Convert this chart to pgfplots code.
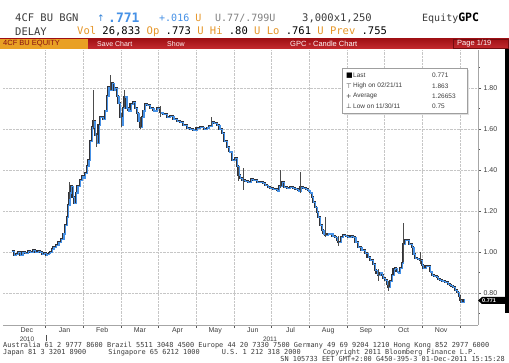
\documentclass[border=0pt]{standalone}
\usepackage{pgfplots}
\pgfplotsset{compat=1.18}
\usepackage{fontspec}
\setmainfont{Liberation Sans}
\newfontfamily\monof{DejaVu Sans Mono}
\newfontfamily\dejavu{DejaVu Sans}
\definecolor{bbblue}{RGB}{50,130,215}
\definecolor{lblue}{RGB}{70,145,230}
\definecolor{bborange}{RGB}{230,150,40}
\definecolor{bbred}{RGB}{190,20,25}
\definecolor{bbdark}{RGB}{60,60,60}
\definecolor{candle}{RGB}{50,50,55}
\pgfplotstableread{
x y
0.098 1.006
0.150 0.985
0.212 0.990
0.260 1.000
0.319 0.985
0.380 1.000
0.451 0.995
0.520 1.005
0.584 1.000
0.650 1.010
0.717 1.000
0.780 1.006
0.850 1.000
0.900 0.990
0.956 0.995
1.000 0.985
1.035 0.990
1.080 0.995
1.115 1.000
1.160 1.015
1.203 1.026
1.270 1.035
1.335 1.050
1.400 1.065
1.468 1.090
1.510 1.130
1.558 1.170
1.590 1.230
1.627 1.290
1.664 1.320
1.710 1.270
1.752 1.240
1.800 1.290
1.840 1.320
1.900 1.350
1.956 1.370
2.000 1.360
2.044 1.385
2.090 1.420
2.132 1.450
2.180 1.540
2.222 1.610
2.264 1.640
2.310 1.570
2.355 1.530
2.400 1.620
2.442 1.660
2.510 1.650
2.575 1.690
2.620 1.760
2.663 1.806
2.710 1.790
2.753 1.823
2.800 1.790
2.840 1.800
2.890 1.760
2.928 1.727
2.970 1.660
3.018 1.620
3.050 1.700
3.079 1.758
3.140 1.700
3.194 1.690
3.250 1.720
3.310 1.730
3.360 1.700
3.416 1.677
3.460 1.640
3.504 1.610
3.550 1.660
3.592 1.690
3.640 1.720
3.682 1.717
3.760 1.700
3.857 1.690
3.950 1.700
4.035 1.680
4.120 1.675
4.213 1.660
4.300 1.665
4.388 1.650
4.480 1.640
4.566 1.636
4.650 1.620
4.744 1.603
4.830 1.600
4.919 1.595
5.000 1.605
5.097 1.610
5.190 1.600
5.275 1.607
5.340 1.615
5.408 1.636
5.470 1.630
5.540 1.620
5.610 1.600
5.673 1.580
5.740 1.540
5.806 1.514
5.870 1.490
5.938 1.450
6.026 1.460
6.070 1.420
6.114 1.376
6.160 1.360
6.204 1.351
6.290 1.345
6.371 1.343
6.440 1.355
6.504 1.350
6.600 1.340
6.690 1.343
6.760 1.335
6.822 1.327
6.890 1.315
6.955 1.310
7.040 1.305
7.133 1.300
7.200 1.320
7.266 1.340
7.330 1.315
7.398 1.310
7.480 1.315
7.566 1.310
7.630 1.305
7.699 1.300
7.760 1.315
7.831 1.310
7.900 1.305
7.964 1.300
8.010 1.290
8.062 1.270
8.100 1.245
8.150 1.220
8.190 1.195
8.229 1.172
8.280 1.130
8.328 1.107
8.370 1.090
8.415 1.083
8.480 1.090
8.548 1.090
8.610 1.080
8.681 1.075
8.720 1.060
8.760 1.050
8.830 1.075
8.893 1.083
8.960 1.078
9.026 1.075
9.090 1.080
9.159 1.075
9.220 1.050
9.291 1.026
9.380 1.010
9.477 0.994
9.540 0.975
9.610 0.961
9.680 0.940
9.743 0.912
9.780 0.895
9.822 0.888
9.870 0.900
9.920 0.890
9.960 0.875
10.008 0.863
10.050 0.845
10.088 0.830
10.140 0.860
10.186 0.890
10.230 0.915
10.273 0.920
10.310 0.905
10.353 0.900
10.400 0.920
10.451 0.945
10.486 1.040
10.540 1.060
10.584 1.058
10.650 1.040
10.717 1.026
10.760 0.990
10.804 0.969
10.870 0.965
10.937 0.960
10.980 0.935
11.017 0.920
11.080 0.930
11.149 0.930
11.200 0.905
11.248 0.890
11.310 0.885
11.380 0.880
11.420 0.870
11.468 0.863
11.530 0.860
11.601 0.855
11.670 0.845
11.733 0.839
11.770 0.835
11.813 0.830
11.860 0.815
11.911 0.806
11.960 0.785
11.999 0.766
12.030 0.758
12.052 0.755
12.090 0.771
}\price
\begin{document}
\begin{tikzpicture}
\path[use as bounding box] (0,0) rectangle (509pt,-363pt);
\fill[white] (0,0) rectangle (509pt,-363pt);
\begin{axis}[
  at={(3pt,-325pt)}, anchor=south west,
  width=475pt, height=275pt, scale only axis,
  xmin=-0.133, xmax=12.477, ymin=0.644, ymax=1.985,
  axis x line*=bottom, axis y line*=right,
  axis line style={gray!70, line width=0.6pt},
  tick align=outside,
  xtick={1,2,...,12}, xticklabels={},
  major tick length=3pt,
  extra x ticks={0.5,1.5,2.5,3.5,4.5,5.5,6.5,7.5,8.5,9.5,10.5,11.5},
  extra x tick labels={Dec,Jan,Feb,Mar,Apr,May,Jun,Jul,Aug,Sep,Oct,Nov},
  extra x tick style={grid=none, major tick length=0pt,
     tick label style={font=\fontsize{7}{7}\selectfont, text=bbdark, yshift=1pt}},
  ytick={0.8,1.0,1.2,1.4,1.6,1.8},
  minor ytick={0.7,0.9,1.1,1.3,1.5,1.7,1.9},
  minor tick length=1.5pt,
  /pgf/number format/fixed, /pgf/number format/fixed zerofill, /pgf/number format/precision=2,
  yticklabel style={font=\fontsize{7}{7}\selectfont, text=bbdark, xshift=-1pt},
  /pgf/number format/assume math mode=true,
  tick style={gray!70!black, line width=0.6pt},
  grid=major,
  major grid style={densely dotted, gray!45, line width=0.6pt},
  clip=false,
]
\addplot[candle, line width=1.9pt, const plot, line join=miter] table[x=x,y=y] {\price};
\addplot[lblue, line width=1.1pt, const plot, xshift=0.7pt, yshift=-0.5pt] table[x=x,y=y] {\price};
\addplot[draw=none, mark=none, error bars/.cd, y dir=both, y explicit,
  error mark=none, error bar style={gray!60!black, line width=0.7pt}] coordinates {
(1.627,1.29) += (0,0.05) -= (0,0.03)
(2.264,1.64) += (0,0.15) -= (0,0.04)
(2.355,1.53) += (0,0.05) -= (0,0.02)
(2.720,1.82) += (0,0.043) -= (0,0.03)
(3.018,1.62) += (0,0.06) -= (0,0.01)
(3.079,1.758) += (0,0.03) -= (0,0.05)
(3.504,1.61) += (0,0.05) -= (0,0.01)
(4.035,1.68) += (0,0.03) -= (0,0.02)
(5.408,1.636) += (0,0.02) -= (0,0.02)
(6.114,1.376) += (0,0.04) -= (0,0.03)
(6.260,1.35) += (0,0.06) -= (0,0.05)
(7.220,1.33) += (0,0.07) -= (0,0.02)
(7.750,1.30) += (0,0.09) -= (0,0.01)
(8.415,1.083) += (0,0.09) -= (0,0.01)
(8.760,1.05) += (0,0.03) -= (0,0.02)
(9.822,0.888) += (0,0.03) -= (0,0.03)
(10.088,0.83) += (0,0.03) -= (0,0.02)
(10.486,1.04) += (0,0.10) -= (0,0.09)
(10.937,0.96) += (0,0.04) -= (0,0.02)
(11.999,0.766) += (0,0.02) -= (0,0.016)
};
\end{axis}
\begin{scope}[x=1pt,y=-1pt]
% header
\node[anchor=west, inner sep=0] at (15,18) {\monof\fontsize{10.5}{11}\selectfont\color{bbdark}4CF BU BGN};
\node[anchor=west, inner sep=0] at (97,18) {\dejavu\fontsize{9}{10}\selectfont\color{bbblue}↑};
\node[anchor=west, inner sep=0] at (108,18) {\monof\bfseries\fontsize{13}{14}\selectfont\color{lblue}.771};
\node[anchor=west, inner sep=0] at (159,18) {\monof\fontsize{10}{11}\selectfont\color{lblue}+.016 \color{bborange}U};
\node[anchor=west, inner sep=0] at (215,18) {\monof\fontsize{10}{11}\selectfont\color{gray}U.77/.799U};
\node[anchor=west, inner sep=0] at (302,18) {\monof\fontsize{10.5}{11}\selectfont\color{bbdark}3,000x1,250};
\node[anchor=west, inner sep=0] at (422,18) {\monof\fontsize{10}{11}\selectfont\color{bbdark}Equity\fontsize{11.5}{12}\selectfont\bfseries\color{black}GPC};
\node[anchor=west, inner sep=0] at (15,32) {\monof\fontsize{10.5}{11}\selectfont\color{bbdark}DELAY};
\node[anchor=west, inner sep=0] at (77,32) {\monof\fontsize{10.5}{11}\selectfont\color{bborange}Vol \color{black}26,833 \color{bborange}Op \color{black}.773 \color{bborange}U  Hi \color{black}.80 \color{bborange}U  Lo \color{black}.761 \color{bborange}U  Prev \color{black}.755};
% red bar
\shade[top color=bbred!85!black, bottom color=bbred!90!white] (0,39) rectangle (509,49);
\fill[bborange!90!yellow] (0,39) rectangle (88,49);
\node[anchor=west, inner sep=0] at (3,44) {\fontsize{7.5}{8}\selectfont\color{bbred!70!black}4CF BU EQUITY};
\node[anchor=west, inner sep=0] at (97,44) {\fontsize{7}{8}\selectfont\color{white!85!pink}Save Chart};
\node[anchor=west, inner sep=0] at (167,44) {\fontsize{7}{8}\selectfont\color{white!85!pink}Show};
\node[anchor=west, inner sep=0] at (290,44) {\fontsize{7.5}{8}\selectfont\color{white!90!pink}GPC - Candle Chart};
\draw[bbred!60!black, line width=0.6pt] (453,39.5) rectangle (508.5,48.5);
\node[anchor=west, inner sep=0] at (457,44) {\fontsize{7.5}{8}\selectfont\color{white!90!pink}Page 1/19};
% right black strip
\fill[black] (505,49) rectangle (509,313);
% last price label
\fill[black] (478,300.5) -- (482,297) -- (505,297) -- (505,304) -- (482,304) -- cycle;
\node[anchor=west, inner sep=0] at (482,300.5) {\fontsize{5.5}{5.5}\selectfont\bfseries\color{white}0.771};
% legend
\fill[gray!25] (344,70) rectangle (469,115);
\fill[white] (342,68) rectangle (467,113);
\draw[gray!75, line width=0.8pt] (342,68) rectangle (467,113);
\begin{scope}[every node/.style={anchor=west, inner sep=0, font=\fontsize{6.5}{7}\selectfont, text=bbdark}]
\node at (346,75.5) {\dejavu\fontsize{7}{7}\selectfont\color{black}■};
\node at (353,75.5) {Last};
\node at (432,75.5) {0.771};
\node at (346,86) {\dejavu\fontsize{6.5}{7}\selectfont ⊤};
\node at (353,86) {High on 02/21/11};
\node at (432,86) {1.863};
\node at (346,96) {\dejavu\fontsize{6.5}{7}\selectfont +};
\node at (353,96) {Average};
\node at (432,96) {1.26653};
\node at (346,106) {\dejavu\fontsize{6.5}{7}\selectfont ⊥};
\node at (353,106) {Low on 11/30/11};
\node at (432,106) {0.75};
\end{scope}
% year labels
\node[anchor=center, inner sep=0] at (27,339) {\fontsize{6.5}{7}\selectfont\color{bbdark}2010};
\draw[gray!60!black, line width=0.5pt] (46,335) -- (46,341);
\node[anchor=center, inner sep=0] at (270,339) {\fontsize{6.5}{7}\selectfont\color{bbdark}2011};
% footer
\node[anchor=west, inner sep=0] at (3,346) {\monof\fontsize{6.9}{7}\selectfont\color{bbdark}Australia 61 2 9777 8600 Brazil 5511 3048 4500 Europe 44 20 7330 7500 Germany 49 69 9204 1210 Hong Kong 852 2977 6000};
\node[anchor=west, inner sep=0] at (3,352.5) {\monof\fontsize{6.9}{7}\selectfont\color{bbdark}Japan 81 3 3201 8900\hspace{3.2em}Singapore 65 6212 1000\hspace{3.2em}U.S. 1 212 318 2000\hspace{3.2em}Copyright 2011 Bloomberg Finance L.P.};
\node[anchor=east, inner sep=0] at (505,358.5) {\monof\fontsize{6.9}{7}\selectfont\color{bbdark}SN 105733 EET  GMT+2:00 G450-395-3 01-Dec-2011 15:15:28};
\end{scope}
\end{tikzpicture}
\end{document}
